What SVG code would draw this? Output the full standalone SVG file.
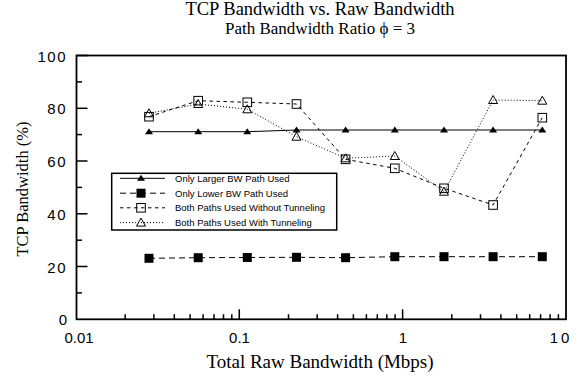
<svg xmlns="http://www.w3.org/2000/svg" xmlns:xlink="http://www.w3.org/1999/xlink" width="584" height="379" viewBox="0 0 584 379">
<style>
.title{font-family:"Liberation Serif","Times New Roman",serif;fill:#000}
.tick{font-family:"Liberation Sans",Arial,sans-serif;font-size:15px;fill:#000}
.leg{font-family:"Liberation Sans",Arial,sans-serif;font-size:9.5px;fill:#000}
.ax{stroke:#000;fill:none;stroke-width:1.8}
.tk{stroke:#000;stroke-width:1.5}
.s1{stroke:#000;fill:none;stroke-width:1}
.s2{stroke:#000;fill:none;stroke-width:1;stroke-dasharray:6,4}
.s3{stroke:#000;fill:none;stroke-width:1;stroke-dasharray:3.5,3.5}
.s4{stroke:#000;fill:none;stroke-width:1;stroke-dasharray:1,2}
</style>
<defs>
<path id="ftri" d="M0,-3.5 L4,2.5 L-4,2.5 Z" fill="#000"/>
<rect id="fsq" x="-4.5" y="-4.5" width="9" height="9" fill="#000"/>
<rect id="osq" x="-4.3" y="-4.3" width="8.6" height="8.6" fill="none" stroke="#000" stroke-width="1"/>
<path id="otri" d="M0,-4.5 L4.5,3.5 L-4.5,3.5 Z" fill="none" stroke="#000" stroke-width="1"/>
</defs>
<rect width="584" height="379" fill="#fff"/>
<g id="titles">
<text class="title" x="320" y="15" font-size="18.5" text-anchor="middle">TCP Bandwidth vs. Raw Bandwidth</text>
<text class="title" x="320" y="33.5" font-size="17" text-anchor="middle">Path Bandwidth Ratio ϕ = 3</text>
<text class="title" x="320" y="368" font-size="19" text-anchor="middle">Total Raw Bandwidth (Mbps)</text>
<text class="title" transform="translate(27.5,189) rotate(-90)" font-size="16.5" text-anchor="middle">TCP Bandwidth (%)</text>
</g>
<g id="axes">
<rect class="ax" x="76.5" y="55.5" width="489.5" height="263.8"/>
<line class="tk" x1="76.5" y1="55.5" x2="88" y2="55.5" stroke-width="2.5"/>
<g class="tk">
<line x1="76.5" y1="292.9" x2="82" y2="292.9"/>
<line x1="76.5" y1="266.5" x2="87.5" y2="266.5"/>
<line x1="76.5" y1="240.2" x2="82" y2="240.2"/>
<line x1="76.5" y1="213.8" x2="87.5" y2="213.8"/>
<line x1="76.5" y1="187.4" x2="82" y2="187.4"/>
<line x1="76.5" y1="161" x2="87.5" y2="161"/>
<line x1="76.5" y1="134.6" x2="82" y2="134.6"/>
<line x1="76.5" y1="108.3" x2="87.5" y2="108.3"/>
<line x1="76.5" y1="81.9" x2="82" y2="81.9"/>
</g>
<path class="tk" d="M125.2,319.3V314.3M153.9,319.3V314.3M174.3,319.3V314.3M190.1,319.3V314.3M203.1,319.3V314.3M214,319.3V314.3M223.5,319.3V314.3M231.8,319.3V314.3M239.3,319.3V309.3M288.5,319.3V314.3M317.2,319.3V314.3M337.6,319.3V314.3M353.4,319.3V314.3M366.4,319.3V314.3M377.3,319.3V314.3M386.8,319.3V314.3M395.1,319.3V314.3M402.6,319.3V309.3M451.8,319.3V314.3M480.5,319.3V314.3M500.9,319.3V314.3M516.7,319.3V314.3M529.7,319.3V314.3M540.6,319.3V314.3M550.1,319.3V314.3M558.4,319.3V314.3"/>
<g class="tick" text-anchor="end">
<text x="67" y="325.3">0</text>
<text x="67" y="272.5" letter-spacing="1.5">20</text>
<text x="67" y="219.8" letter-spacing="1.5">40</text>
<text x="67" y="167" letter-spacing="1.5">60</text>
<text x="67" y="114.3" letter-spacing="1.5">80</text>
<text x="67" y="61.5" letter-spacing="1.5">100</text>
</g>
<g class="tick" text-anchor="middle">
<text x="79" y="343">0.01</text>
<text x="239.5" y="343">0.1</text>
<text x="403" y="343">1</text>
<text x="561" y="343" letter-spacing="3">10</text>
</g>
</g>
<g id="connectors">
<polyline class="s1" points="149,131.7 198.2,131.7 247.3,131.7 296.5,130 345.6,130 394.8,130 444,130 493.1,130 542.3,130"/>
<polyline class="s2" points="149,258.3 198.2,257.7 247.3,257.5 296.5,257.3 345.6,257.7 394.8,256.7 444,256.7 493.1,256.7 542.3,256.7"/>
<polyline class="s3" points="149,116.7 198.2,100.7 247.3,102.3 296.5,104 345.6,159.3 394.8,168.3 444,188.3 493.1,205 542.3,117.7"/>
<polyline class="s4" points="149,113.3 198.2,104 247.3,109.3 296.5,136.7 345.6,158.3 394.8,156 444,191.7 493.1,100 542.3,100.7"/>
</g>
<g id="series-larger">
<use xlink:href="#ftri" x="149" y="131.7"/><use xlink:href="#ftri" x="198.2" y="131.7"/><use xlink:href="#ftri" x="247.3" y="131.7"/><use xlink:href="#ftri" x="296.5" y="130"/><use xlink:href="#ftri" x="345.6" y="130"/><use xlink:href="#ftri" x="394.8" y="130"/><use xlink:href="#ftri" x="444" y="130"/><use xlink:href="#ftri" x="493.1" y="130"/><use xlink:href="#ftri" x="542.3" y="130"/>
</g>
<g id="series-lower">
<use xlink:href="#fsq" x="149" y="258.3"/><use xlink:href="#fsq" x="198.2" y="257.7"/><use xlink:href="#fsq" x="247.3" y="257.5"/><use xlink:href="#fsq" x="296.5" y="257.3"/><use xlink:href="#fsq" x="345.6" y="257.7"/><use xlink:href="#fsq" x="394.8" y="256.7"/><use xlink:href="#fsq" x="444" y="256.7"/><use xlink:href="#fsq" x="493.1" y="256.7"/><use xlink:href="#fsq" x="542.3" y="256.7"/>
</g>
<g id="series-without">
<use xlink:href="#osq" x="149" y="116.7"/><use xlink:href="#osq" x="198.2" y="100.7"/><use xlink:href="#osq" x="247.3" y="102.3"/><use xlink:href="#osq" x="296.5" y="104"/><use xlink:href="#osq" x="345.6" y="159.3"/><use xlink:href="#osq" x="394.8" y="168.3"/><use xlink:href="#osq" x="444" y="188.3"/><use xlink:href="#osq" x="493.1" y="205"/><use xlink:href="#osq" x="542.3" y="117.7"/>
</g>
<g id="series-with">
<use xlink:href="#otri" x="149" y="113.3"/><use xlink:href="#otri" x="198.2" y="104"/><use xlink:href="#otri" x="247.3" y="109.3"/><use xlink:href="#otri" x="296.5" y="136.7"/><use xlink:href="#otri" x="345.6" y="158.3"/><use xlink:href="#otri" x="394.8" y="156"/><use xlink:href="#otri" x="444" y="191.7"/><use xlink:href="#otri" x="493.1" y="100"/><use xlink:href="#otri" x="542.3" y="100.7"/>
</g>
<g id="legend">
<rect x="111.7" y="173.3" width="225" height="56.7" fill="#fff" stroke="#000" stroke-width="1.5"/>
<line class="s1" x1="120" y1="178.3" x2="165" y2="178.3"/><use xlink:href="#ftri" x="141" y="178.3"/>
<text class="leg" x="175" y="181.8">Only Larger BW Path Used</text>
<line class="s2" x1="120" y1="193.2" x2="165" y2="193.2"/><use xlink:href="#fsq" x="141" y="193.2"/>
<text class="leg" x="175" y="196.7">Only Lower BW Path Used</text>
<line class="s3" x1="120" y1="207.8" x2="165" y2="207.8"/><use xlink:href="#osq" x="141" y="207.8"/>
<text class="leg" x="175" y="211.3">Both Paths Used Without Tunneling</text>
<line class="s4" x1="120" y1="222.6" x2="165" y2="222.6"/><use xlink:href="#otri" x="141" y="222.6"/>
<text class="leg" x="175" y="226.1">Both Paths Used With Tunneling</text>
</g>
</svg>
